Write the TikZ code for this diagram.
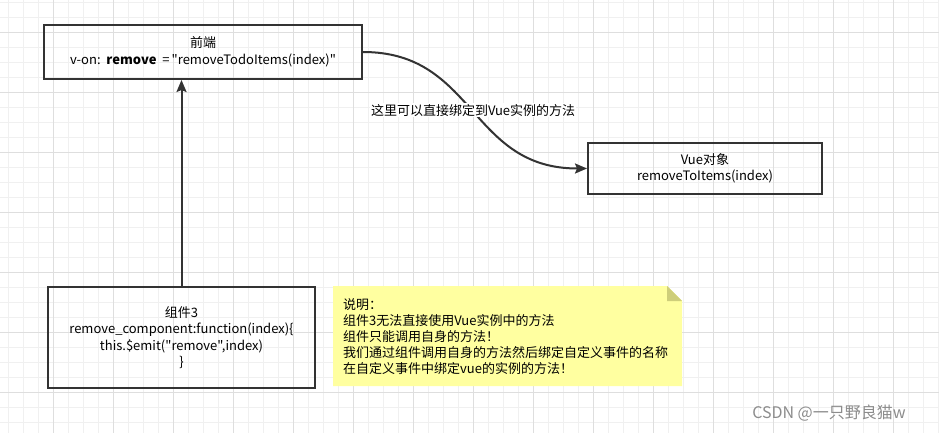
\documentclass[tikz,border=0pt]{standalone}
\usepackage{fontspec}
\setmainfont{Noto Sans CJK SC}[Ligatures=TeXOff]
\usetikzlibrary{arrows.meta}
\definecolor{linegray}{RGB}{51,51,51}
\definecolor{gridlight}{RGB}{240,240,240}
\definecolor{griddark}{RGB}{222,222,222}
\definecolor{notefill}{RGB}{255,255,160}
\definecolor{notefold}{RGB}{206,206,122}
\tikzset{
	box/.style={draw=linegray, line width=2pt, align=center, inner sep=0pt,
		font=\fontsize{13}{16.5}\selectfont},
	link/.style={draw=linegray, line width=2pt, -{Stealth[length=12pt,width=10pt,inset=2pt]}},
}

\begin{document}
\begin{tikzpicture}[x=1pt, y=-1pt]
			%%%%% START %%%%%
			\useasboundingbox (0, 0) rectangle (939, 433);
			\fill[white] (0, 0) rectangle (939, 433);
			
			\foreach \k in {0,...,62} {\pgfmathsetmacro\gx{8.3+15*\k} \draw[gridlight, line width=1pt] (\gx, 0) -- (\gx, 433);}
			\foreach \k in {0,...,28} {\pgfmathsetmacro\gy{2.3+15*\k} \draw[gridlight, line width=1pt] (0, \gy) -- (939, \gy);}
			\foreach \gx in {53.3,113.3,...,893.3} {\draw[griddark, line width=1pt] (\gx, 0) -- (\gx, 433);}
			\foreach \gy in {32.3,92.3,...,392.3} {\draw[griddark, line width=1pt] (0, \gy) -- (939, \gy);}
			
			\node[box, minimum width=318, minimum height=54] (front) at (203, 52)
				{前端\\v-on:\ \ \textbf{remove}\ \ =\,"removeTodoItems(index)"};
			\node[box, minimum width=234, minimum height=51] (vue) at (705, 168.5)
				{Vue对象\\removeToItems(index)};
			\node[box, minimum width=267, minimum height=101] (comp) at (181.5, 337.5)
				{组件3\\remove\_component:function(index)\{\\this.\$emit("remove",index)\\\}};
			
			\draw[link] (comp.north) -- (comp.north |- front.south);
			\draw[link] (front.east) .. controls +(113, 0) and +(-118, 0) .. (vue.west)
				node[pos=0.5, fill=white, inner sep=1pt, font=\fontsize{13}{15}\selectfont] (bindlabel) {这里可以直接绑定到Vue实例的方法};
			
			\fill[notefill] (333, 286) -- (667, 286) -- (682, 301) -- (682, 386) -- (333, 386) -- cycle;
			\fill[notefold] (667, 286) -- (682, 301) -- (667, 301) -- cycle;
			\node[anchor=west, align=left, inner sep=0pt, font=\fontsize{13}{16}\selectfont] (note) at (343, 337)
				{说明：\\组件3无法直接使用Vue实例中的方法\\组件只能调用自身的方法！\\我们通过组件调用自身的方法然后绑定自定义事件的名称\\在自定义事件中绑定vue的实例的方法！};
			
			\node[text=black!45, font=\fontsize{16}{18}\selectfont] (mark) at (829, 413) {CSDN @一只野良猫w};
			%%%%% END %%%%%
\end{tikzpicture}
\end{document}
